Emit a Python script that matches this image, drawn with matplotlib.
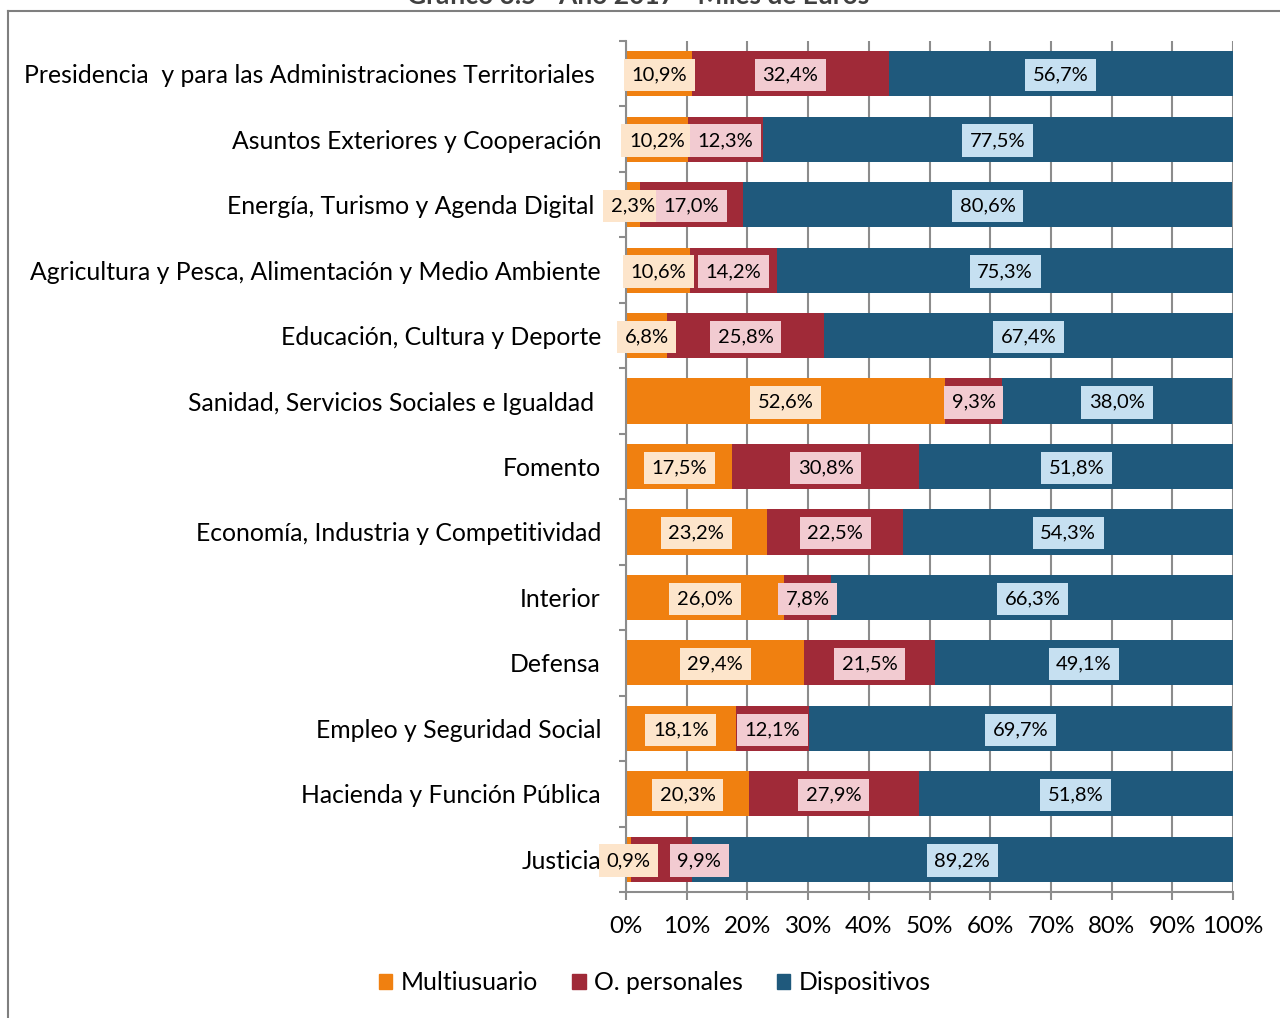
import matplotlib.pyplot as plt
import numpy as np
from matplotlib.lines import Line2D
from matplotlib.patches import Patch

plt.rcParams['font.family'] = ['Lato', 'DejaVu Sans']

# Datos (porcentajes por ministerio)
categorias = [
    'Presidencia  y para las Administraciones Territoriales ',
    'Asuntos Exteriores y Cooperación',
    'Energía, Turismo y Agenda Digital ',
    'Agricultura y Pesca, Alimentación y Medio Ambiente',
    'Educación, Cultura y Deporte',
    'Sanidad, Servicios Sociales e Igualdad ',
    'Fomento',
    'Economía, Industria y Competitividad',
    'Interior',
    'Defensa',
    'Empleo y Seguridad Social',
    'Hacienda y Función Pública',
    'Justicia',
]
multiusuario = [10.9, 10.2, 2.3, 10.6, 6.8, 52.6, 17.5, 23.2, 26.0, 29.4, 18.1, 20.3, 0.9]
personales = [32.4, 12.3, 17.0, 14.2, 25.8, 9.3, 30.8, 22.5, 7.8, 21.5, 12.1, 27.9, 9.9]
dispositivos = [56.7, 77.5, 80.6, 75.3, 67.4, 38.0, 51.8, 54.3, 66.3, 49.1, 69.7, 51.8, 89.2]
series = ['Multiusuario', 'O. personales', 'Dispositivos']

colores = ['#f08010', '#a02a38', '#1f597c']
colores_caja = ['#fde5cb', '#f2cbd1', '#c6e0f1']

fig = plt.figure(figsize=(12.8, 10.18), dpi=100)
ax = fig.add_axes([626/1280, 1-892/1018, (1233-626)/1280, (892-41)/1018])

y = np.arange(len(categorias))
left = np.zeros(len(categorias))
for vals, c, cb in zip([multiusuario, personales, dispositivos], colores, colores_caja):
    vals = np.array(vals)
    ax.barh(y, vals, left=left, height=0.69, color=c, zorder=2)
    for i, (l, v) in enumerate(zip(left, vals)):
        xc = l + v / 2
        # Excel desplaza la etiqueta si se solapa con la anterior
        if c == colores[1] and v < 12 and l < 2:
            xc = l + v / 2 + 6.2
        ax.text(xc, i + 0.02, f'{v:.1f}%'.replace('.', ','), ha='center', va='center',
                fontsize=14.5, zorder=4,
                bbox=dict(boxstyle='square,pad=0.38', fc=cb, ec='none'))
    left += vals

ax.set_xlim(0, 100)
ax.set_ylim(len(categorias) - 0.5, -0.5)
ax.set_xticks(np.arange(0, 101, 10))
ax.set_xticklabels([f'{t}%' for t in range(0, 101, 10)], fontsize=17.4)
ax.set_yticks(y)
ax.set_yticklabels(categorias, fontsize=17.8)
ax.set_yticks(np.arange(-0.5, len(categorias), 1), minor=True)
ax.tick_params(axis='y', which='major', length=0, pad=18)
ax.tick_params(axis='y', which='minor', length=5, width=1.5, color='#8c8c8c')
ax.tick_params(axis='x', length=6, width=1.5, color='#8c8c8c', pad=11)
ax.grid(axis='x', color='#8c8c8c', lw=1.5, zorder=1)
for s in ['top', 'right']:
    ax.spines[s].set_visible(False)
for s in ['left', 'bottom']:
    ax.spines[s].set_color('#8c8c8c')
    ax.spines[s].set_linewidth(1.5)

handles = [Patch(color=c, label=s) for c, s in zip(colores, series)]
fig.legend(handles=handles, loc='center', bbox_to_anchor=(655/1280, 1-983/1018),
           ncol=3, frameon=False, fontsize=17.8, handlelength=0.53, handleheight=0.53,
           handletextpad=0.33, columnspacing=1.4)

# Título recortado y borde del gráfico
fig.text(638/1280, 1-4/1018, 'Gráfico 3.5 - Año 2017 - Miles de Euros', ha='center',
         va='baseline', fontsize=19, fontweight='bold', color='#404040')
fig.add_artist(Line2D([8/1280, 1], [1-11/1018, 1-11/1018], color='#7f7f7f', lw=1.5))
fig.add_artist(Line2D([8/1280, 8/1280], [1-11/1018, 0], color='#7f7f7f', lw=1.5))

fig.savefig('out.png', dpi=100)
